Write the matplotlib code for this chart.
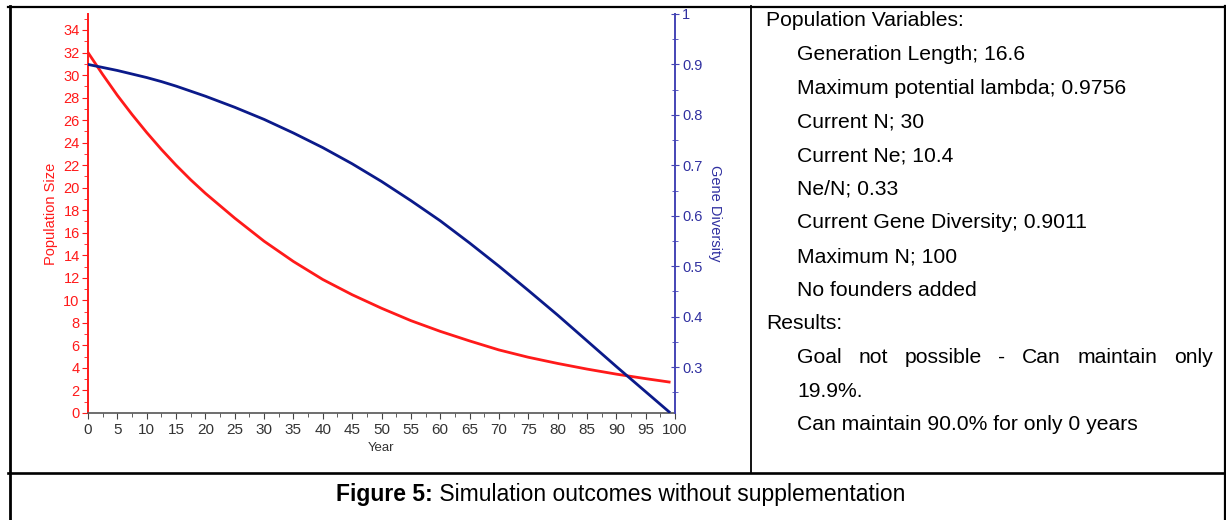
import matplotlib
matplotlib.use("Agg")
import matplotlib.pyplot as plt
from matplotlib.lines import Line2D
from matplotlib.ticker import MultipleLocator

W, H = 1226, 520
RED = "#FF1A1A"
NAVY = "#0B1A8A"
SLATE = "#4545B5"

years = [0, 2.5, 5, 7.5, 10, 12.5, 15, 17.5, 20, 25, 30, 35, 40, 45, 50,
         55, 60, 65, 70, 75, 80, 85, 90, 95, 99]
pop_size = [32.0, 30.05, 28.2, 26.5, 24.9, 23.4, 22.0, 20.7, 19.5, 17.3, 15.25,
            13.45, 11.85, 10.5, 9.3, 8.2, 7.25, 6.4, 5.6, 4.95, 4.4, 3.9,
            3.45, 3.05, 2.75]
gene_div = [0.900, 0.894, 0.888, 0.881, 0.874, 0.866, 0.857, 0.847, 0.837,
            0.815, 0.791, 0.764, 0.735, 0.703, 0.668, 0.630, 0.590, 0.546,
            0.500, 0.452, 0.403, 0.352, 0.301, 0.251, 0.211]

table_lines = [
    (0, "Population Variables:"),
    (1, "Generation Length; 16.6"),
    (1, "Maximum potential lambda; 0.9756"),
    (1, "Current N; 30"),
    (1, "Current Ne; 10.4"),
    (1, "Ne/N; 0.33"),
    (1, "Current Gene Diversity; 0.9011"),
    (1, "Maximum N; 100"),
    (1, "No founders added"),
    (0, "Results:"),
    (2, "Goal not possible - Can maintain only"),
    (1, "19.9%."),
    (1, "Can maintain 90.0% for only 0 years"),
]
caption_bold = "Figure 5:"
caption_rest = " Simulation outcomes without supplementation"

plt.rcParams["font.family"] = "Liberation Sans"


def fx(x):
    return x / W


def fy(y):
    return 1 - y / H


fig = plt.figure(figsize=(W / 100, H / 100), dpi=100)

# ---- chart ----
ax = fig.add_axes([fx(88), fy(413), fx(675) - fx(88), fy(14) - fy(413)])
ax.plot(years, pop_size, color=RED, lw=2.0, zorder=3)
ax.set_xlim(0, 100)
ax.set_ylim(0, 35.42)
ax.xaxis.set_major_locator(MultipleLocator(5))
ax.xaxis.set_minor_locator(MultipleLocator(2.5))
ax.yaxis.set_major_locator(MultipleLocator(2))
ax.yaxis.set_minor_locator(MultipleLocator(1))
for s in ("top", "right"):
    ax.spines[s].set_visible(False)
ax.spines["left"].set_color(RED)
ax.spines["left"].set_linewidth(1.4)
ax.spines["bottom"].set_color("#555555")
ax.spines["bottom"].set_linewidth(1.2)
ax.tick_params(axis="y", which="both", colors=RED, labelsize=10.5, pad=2)
ax.tick_params(axis="y", which="major", length=4)
ax.tick_params(axis="y", which="minor", length=3)
ax.tick_params(axis="x", which="both", colors="#444444", labelcolor="#333333",
               labelsize=11, pad=3)
ax.tick_params(axis="x", which="major", length=4)
ax.tick_params(axis="x", which="minor", length=3)
ax.set_xlabel("Year", fontsize=9.5, color="#333333", labelpad=4)
ax.set_ylabel("Population Size", fontsize=10.5, color=RED, labelpad=4)

ax2 = ax.twinx()
ax2.plot(years, gene_div, color=NAVY, lw=2.0, zorder=3)
ax2.set_ylim(0.2088, 1.0)
ax2.yaxis.set_major_locator(MultipleLocator(0.1))
ax2.yaxis.set_minor_locator(MultipleLocator(0.05))
ax2.yaxis.set_major_formatter(lambda v, p: "1" if v > 0.95 else f"{v:.1f}")
for s in ("top", "left", "bottom"):
    ax2.spines[s].set_visible(False)
ax2.spines["right"].set_color(SLATE)
ax2.spines["right"].set_linewidth(1.4)
ax2.tick_params(axis="y", which="both", colors=SLATE, labelcolor="#3030A0",
                labelsize=10.5, direction="inout", pad=2)
ax2.tick_params(axis="y", which="major", length=6)
ax2.tick_params(axis="y", which="minor", length=5)
ax2.set_ylabel("Gene Diversity", fontsize=10.5, color="#3030A0", rotation=-90,
               labelpad=14)

# ---- table frame ----
def hline(y, x0, x1, lw):
    fig.add_artist(Line2D([fx(x0), fx(x1)], [fy(y), fy(y)], color="black", lw=lw))


def vline(x, y0, y1, lw):
    fig.add_artist(Line2D([fx(x), fx(x)], [fy(y0), fy(y1)], color="black", lw=lw))


hline(6.5, 8, 1226, 1.6)
hline(472.5, 8, 1226, 1.9)
vline(9.5, 6, 520, 2.0)
vline(750.5, 6, 472, 1.3)
vline(1224.5, 6, 520, 1.6)

# ---- table text ----
TSIZE = 15.2
fig.canvas.draw()
renderer = fig.canvas.get_renderer()
for i, (level, txt) in enumerate(table_lines):
    y = fy(21 + i * 33.65)
    x0 = 766 if level == 0 else 797
    if level == 2:
        # justified line: spread words between 797 and 1213
        words = txt.split()
        arts = [fig.text(0, y, w, fontsize=TSIZE, va="center") for w in words]
        widths = [a.get_window_extent(renderer).width for a in arts]
        gap = (1213 - x0 - sum(widths)) / (len(words) - 1)
        x = x0
        for a, wd in zip(arts, widths):
            a.set_x(fx(x))
            x += wd + gap
    else:
        fig.text(fx(x0), y, txt, fontsize=TSIZE, va="center")

# ---- caption ----
cb = fig.text(0, fy(494), caption_bold, fontsize=16.5, weight="bold", va="center")
cr = fig.text(0, fy(494), caption_rest, fontsize=16.5, va="center")
wb = cb.get_window_extent(renderer).width
wr = cr.get_window_extent(renderer).width
start = 621 - (wb + wr) / 2
cb.set_x(fx(start))
cr.set_x(fx(start + wb))

fig.savefig("out.png", dpi=100)
